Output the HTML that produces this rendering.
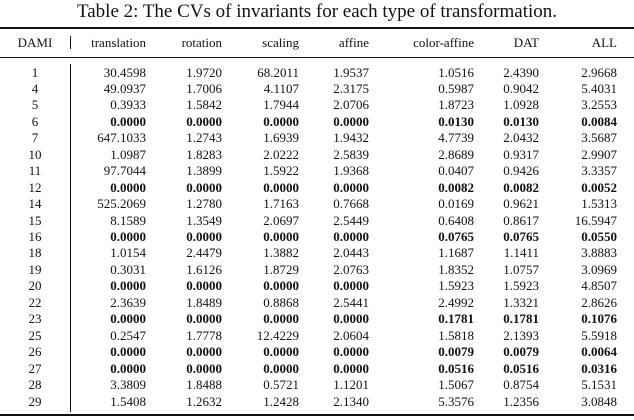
<!DOCTYPE html>
<html><head><meta charset="utf-8"><style>
body{margin:0;width:634px;height:420px;background:#fff;font-family:"Liberation Serif",serif;color:#111;position:relative;overflow:hidden}
.t{position:absolute;white-space:nowrap;font-size:13px;line-height:15px}
.b{font-weight:bold}
.rule{position:absolute;left:0;width:634px;background:#111}
</style></head><body>
<div class="t" style="left:0;width:634px;text-align:center;top:1px;font-size:19px;line-height:22px">Table 2: The CVs of invariants for each type of transformation.</div>
<div class="rule" style="top:27px;height:2px"></div>
<div class="rule" style="top:57px;height:1px"></div>
<div class="rule" style="top:414px;height:2px"></div>
<div style="position:absolute;left:70px;top:36px;width:1px;height:13px;background:#111"></div>
<div style="position:absolute;left:70px;top:64px;width:1px;height:348px;background:#111"></div>
<div id="tbl"></div>
<script>
const headers=["DAMI","translation","rotation","scaling","affine","color-affine","DAT","ALL"];
const rights=[null,146,222,299,369,474,539,617];
// last flag: 0 none, 1 zero cols bold, 2 zero cols + last three bold
const rows=[
["1","30.4598","1.9720","68.2011","1.9537","1.0516","2.4390","2.9668",0],
["4","49.0937","1.7006","4.1107","2.3175","0.5987","0.9042","5.4031",0],
["5","0.3933","1.5842","1.7944","2.0706","1.8723","1.0928","3.2553",0],
["6","0.0000","0.0000","0.0000","0.0000","0.0130","0.0130","0.0084",2],
["7","647.1033","1.2743","1.6939","1.9432","4.7739","2.0432","3.5687",0],
["10","1.0987","1.8283","2.0222","2.5839","2.8689","0.9317","2.9907",0],
["11","97.7044","1.3899","1.5922","1.9368","0.0407","0.9426","3.3357",0],
["12","0.0000","0.0000","0.0000","0.0000","0.0082","0.0082","0.0052",2],
["14","525.2069","1.2780","1.7163","0.7668","0.0169","0.9621","1.5313",0],
["15","8.1589","1.3549","2.0697","2.5449","0.6408","0.8617","16.5947",0],
["16","0.0000","0.0000","0.0000","0.0000","0.0765","0.0765","0.0550",2],
["18","1.0154","2.4479","1.3882","2.0443","1.1687","1.1411","3.8883",0],
["19","0.3031","1.6126","1.8729","2.0763","1.8352","1.0757","3.0969",0],
["20","0.0000","0.0000","0.0000","0.0000","1.5923","1.5923","4.8507",1],
["22","2.3639","1.8489","0.8868","2.5441","2.4992","1.3321","2.8626",0],
["23","0.0000","0.0000","0.0000","0.0000","0.1781","0.1781","0.1076",2],
["25","0.2547","1.7778","12.4229","2.0604","1.5818","2.1393","5.5918",0],
["26","0.0000","0.0000","0.0000","0.0000","0.0079","0.0079","0.0064",2],
["27","0.0000","0.0000","0.0000","0.0000","0.0516","0.0516","0.0316",2],
["28","3.3809","1.8488","0.5721","1.1201","1.5067","0.8754","5.1531",0],
["29","1.5408","1.2632","1.2428","2.1340","5.3576","1.2356","3.0848",0]];
const tbl=document.getElementById('tbl');
function cell(text,c,top,bold,name){
  const d=document.createElement('div');
  d.className='t'+(bold?' b':'');
  d.textContent=text;
  if(c===0){d.style.left='0px';d.style.width='70px';d.style.textAlign='center';}
  else{d.style.left=(rights[c]-120)+'px';d.style.width='120px';d.style.textAlign='right';}
  d.style.top=top+'px';
  
  
  tbl.appendChild(d);
}
headers.forEach((h,c)=>cell(h,c,35,false,'header-'+h));
rows.forEach((r,i)=>{
  const top=64.5+i*16.45;
  for(let c=0;c<8;c++){
    const f=r[8];
    const bold=c>0&&((f>=1&&c<=4)||(f===2&&c>4));
    cell(r[c],c,top,bold,'cell-r'+r[0]+'-'+headers[c]);
  }
});
</script>
</body></html>
